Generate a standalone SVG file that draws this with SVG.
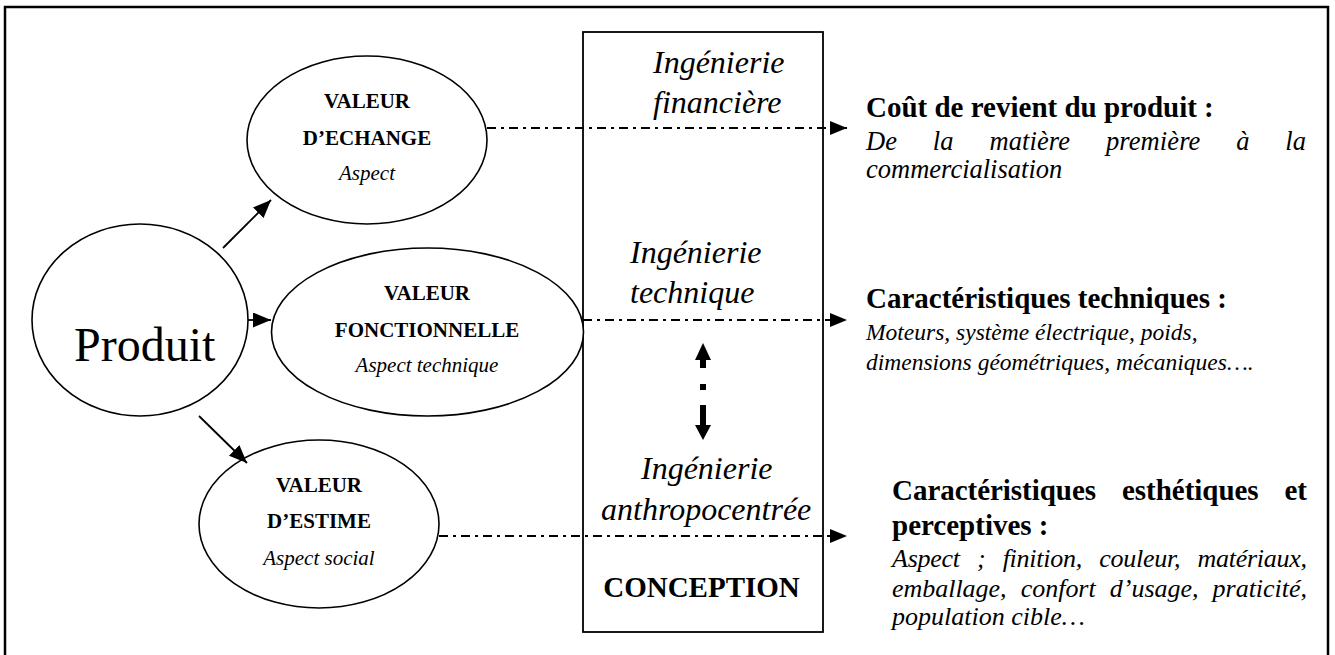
<svg xmlns="http://www.w3.org/2000/svg" width="1335" height="655" viewBox="0 0 1335 655">
<defs>
<style>
.frame{fill:none;stroke:#000;stroke-width:2.5}
.box{fill:none;stroke:#000;stroke-width:1.8}
.node{fill:#fff;stroke:#000;stroke-width:1.6}
text{font-family:"Liberation Serif","Times New Roman",serif;fill:#000}
.b{font-weight:bold}
.i{font-style:italic}
.lbl{font-size:21px;text-anchor:middle}
.ing{font-size:32px;font-style:italic}
.dd{stroke:#000;stroke-width:1.8;stroke-dasharray:9 5 3 5;fill:none}
.sol{stroke:#000;stroke-width:1.8;fill:none}
.h{font-size:29px;font-weight:bold}
</style>
<marker id="ah" viewBox="0 0 10 10" refX="10" refY="5" markerWidth="17" markerHeight="14" markerUnits="userSpaceOnUse" orient="auto" preserveAspectRatio="none"><path d="M0,0 L10,5 L0,10 z" fill="#000"/></marker>
<marker id="ah2" viewBox="0 0 10 10" refX="10" refY="5" markerWidth="18" markerHeight="15" markerUnits="userSpaceOnUse" orient="auto" preserveAspectRatio="none"><path d="M0,0 L10,5 L0,10 z" fill="#000"/></marker>
</defs>

<rect class="frame" x="5" y="7" width="1323" height="700"/>

<g id="conception">
<rect class="box" x="583" y="32" width="240" height="600"/>
<text class="ing" x="653" y="73">Ingénierie</text>
<text class="ing" x="653" y="113">financière</text>
<text class="ing" x="630" y="263">Ingénierie</text>
<text class="ing" x="630" y="303">technique</text>
<text class="ing" x="641" y="479">Ingénierie</text>
<text class="ing" x="601" y="520">anthropocentrée</text>
<text class="h" x="701.5" y="597" text-anchor="middle">CONCEPTION</text>
</g>

<g id="produit">
<ellipse class="node" cx="140" cy="320" rx="108" ry="96"/>
<text x="74" y="361" font-size="48">Produit</text>
</g>

<g id="valeur-echange">
<ellipse class="node" cx="367" cy="140" rx="120" ry="84"/>
<text class="lbl b" x="367" y="108">VALEUR</text>
<text class="lbl b" x="367" y="145">D’ECHANGE</text>
<text class="lbl i" x="367" y="180">Aspect</text>
</g>

<g id="valeur-fonctionnelle">
<ellipse class="node" cx="427.5" cy="332" rx="156" ry="84"/>
<text class="lbl b" x="427" y="300">VALEUR</text>
<text class="lbl b" x="427" y="337">FONCTIONNELLE</text>
<text class="lbl i" x="427" y="372">Aspect technique</text>
</g>

<g id="valeur-estime">
<ellipse class="node" cx="319" cy="524" rx="120" ry="84"/>
<text class="lbl b" x="319" y="492">VALEUR</text>
<text class="lbl b" x="319" y="528">D’ESTIME</text>
<text class="lbl i" x="319" y="565">Aspect social</text>
</g>

<g id="cout">
<text class="h" x="866" y="117">Coût de revient du produit :</text>
<text class="i" x="866" y="150" font-size="26.5" word-spacing="29" textLength="440" lengthAdjust="spacing">De la matière première à la</text>
<text class="i" x="866" y="178" font-size="26.5">commercialisation</text>
</g>

<g id="techniques">
<text class="h" x="866" y="308">Caractéristiques techniques :</text>
<text class="i" x="866" y="340" font-size="23.5">Moteurs, système électrique, poids,</text>
<text class="i" x="866" y="370" font-size="23.5">dimensions géométriques, mécaniques….</text>
</g>

<g id="esthetiques">
<text class="h" x="892" y="500" word-spacing="18.7" textLength="415" lengthAdjust="spacing">Caractéristiques esthétiques et</text>
<text class="h" x="892" y="535">perceptives :</text>
<text class="i" x="892" y="567" font-size="26" word-spacing="11" textLength="415" lengthAdjust="spacing">Aspect ; finition, couleur, matériaux,</text>
<text class="i" x="892" y="597" font-size="26" word-spacing="7.7" textLength="415" lengthAdjust="spacing">emballage, confort d’usage, praticité,</text>
<text class="i" x="892" y="625" font-size="26">population cible…</text>
</g>

<g id="connectors">
<path class="dd" d="M487,128 H847" marker-end="url(#ah)"/>
<path class="dd" d="M583,320 H847" marker-end="url(#ah)"/>
<path class="dd" d="M439,536 H847" marker-end="url(#ah)"/>
<path class="sol" d="M223,248 L271,200" marker-end="url(#ah2)"/>
<path class="sol" d="M248,320 H271" marker-end="url(#ah2)"/>
<path class="sol" d="M199,416 L247,463" marker-end="url(#ah2)"/>
<g id="double-arrow" fill="#000">
<polygon points="703,343 711,360 695,360"/>
<rect x="700" y="359" width="6" height="9"/>
<rect x="700" y="384" width="6" height="6"/>
<rect x="700" y="405" width="6" height="21"/>
<polygon points="695,425 711,425 703,440"/>
</g>
</g>
</svg>
